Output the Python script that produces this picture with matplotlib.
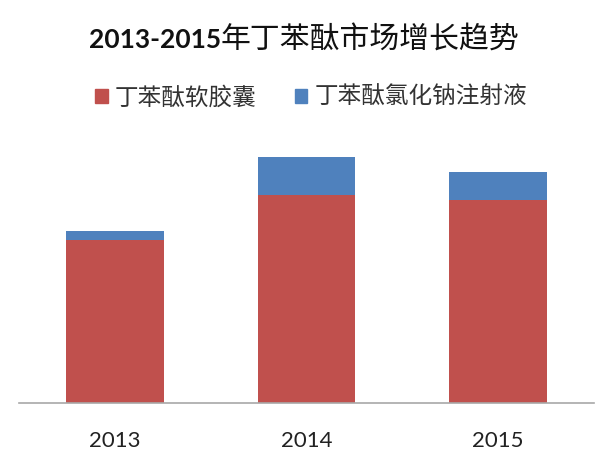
import matplotlib
matplotlib.use('Agg')
import matplotlib.pyplot as plt
from matplotlib.patches import Patch

plt.rcParams['font.family'] = ['Lato', 'Noto Sans CJK SC', 'DejaVu Sans']

years = ['2013', '2014', '2015']
ruanjiaonang = [163, 208, 203]      # 丁苯酞软胶囊
zhusheye = [9, 38, 28]              # 丁苯酞氯化钠注射液
series_names = ['丁苯酞软胶囊', '丁苯酞氯化钠注射液']
title_num = '2013-2015'
title_cn = '年丁苯酞市场增长趋势'

red = '#C0504D'
blue = '#4F81BD'

fig = plt.figure(figsize=(6.04, 4.63), dpi=100)
ax = fig.add_axes([19 / 604, 60 / 463, 575 / 604, 273 / 463])

x = range(len(years))
ax.bar(x, ruanjiaonang, width=0.51, color=red)
ax.bar(x, zhusheye, bottom=ruanjiaonang, width=0.51, color=blue)

ax.set_xlim(-0.5, 2.5)
ax.set_ylim(0, 273)
ax.set_xticks(list(x))
ax.set_xticklabels(years, fontsize=16, color='#222222')
ax.tick_params(axis='x', length=0, pad=20)
ax.set_yticks([])
for s in ['top', 'right', 'left']:
    ax.spines[s].set_visible(False)
ax.spines['bottom'].set_color('#A8A8A8')
ax.spines['bottom'].set_linewidth(1.2)

# title: bold digits, regular chinese part
ty = 1 - 40 / 463
fig.text(221 / 604, ty, title_num, ha='right', va='center',
         fontsize=19, fontweight='bold', color='#111111')
fig.text(221 / 604, ty, title_cn, ha='left', va='center',
         fontsize=21.5, color='#111111')

handles = [Patch(color=red), Patch(color=blue)]
fig.legend(handles, series_names, loc='center', bbox_to_anchor=(0.515, 1 - 97 / 463),
           ncol=2, frameon=False, fontsize=17, handlelength=0.55, handleheight=0.55,
           handletextpad=0.3, columnspacing=1.6, labelcolor='#333333')

fig.savefig('out.png', dpi=100, facecolor='white')
